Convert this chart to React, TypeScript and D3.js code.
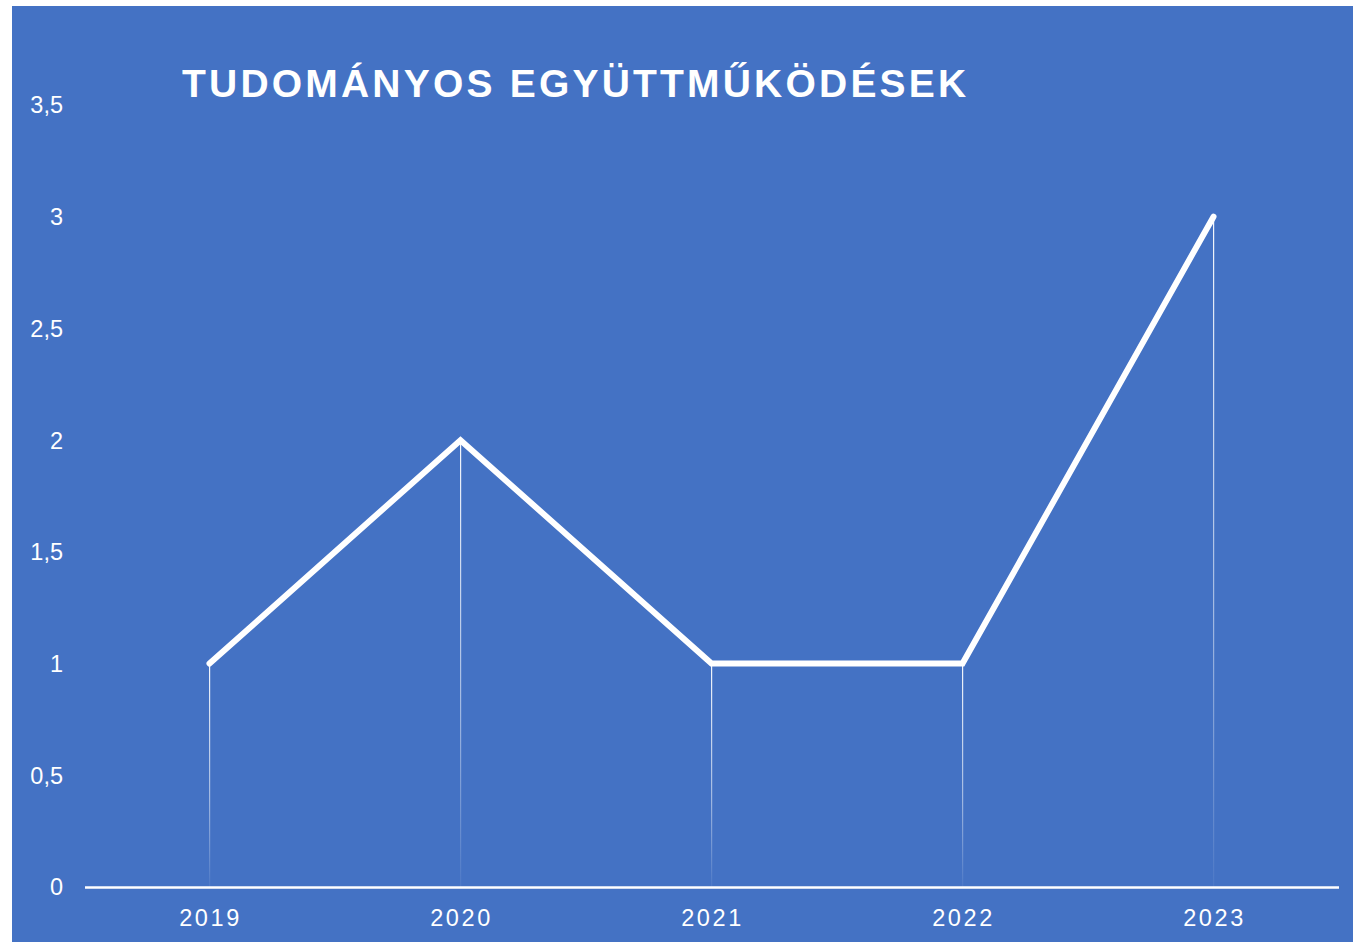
import React from "react";
import * as d3 from "d3";

const years = ["2019", "2020", "2021", "2022", "2023"];
const values = [1, 2, 1, 1, 3];
const yTicks = [0, 0.5, 1, 1.5, 2, 2.5, 3, 3.5];
const title = "TUDOMÁNYOS EGYÜTTMŰKÖDÉSEK";

const W = 1353;
const H = 942;

export default function App() {
  const x = d3.scaleBand<string>().domain(years).range([84, 1339]);
  const y = d3.scaleLinear().domain([0, 3.5]).range([887, 105]);
  const cx = (d: string) => (x(d) as number) + x.bandwidth() / 2;
  const line = d3
    .line<number>()
    .x((_, i) => cx(years[i]))
    .y((v) => y(v));
  const fmt = (v: number) => String(v).replace(".", ",");

  return (
    <svg
      width={W}
      height={H}
      style={{ position: "absolute", left: 0, top: 0, display: "block" }}
      fontFamily="'Liberation Sans', Arial, sans-serif"
    >
      <defs>
        <linearGradient id="fade" x1="0" y1="0" x2="0" y2="1">
          <stop offset="0" stopColor="#ffffff" stopOpacity={0.95} />
          <stop offset="0.6" stopColor="#ffffff" stopOpacity={0.5} />
          <stop offset="1" stopColor="#ffffff" stopOpacity={0.05} />
        </linearGradient>
      </defs>
      <rect x={0} y={0} width={W} height={H} fill="#ffffff" />
      <rect x={12} y={6} width={W - 12} height={H - 6} fill="#4472C4" />
      <text
        x={182}
        y={97}
        fill="#ffffff"
        fontSize={39}
        fontWeight="bold"
        letterSpacing={3.2}
      >
        {title}
      </text>
      {yTicks.map((t) => (
        <text
          key={t}
          x={63}
          y={y(t)}
          dy="0.36em"
          textAnchor="end"
          fill="#ffffff"
          fontSize={23.5}
        >
          {fmt(t)}
        </text>
      ))}
      {years.map((yr, i) => (
        <rect
          key={"drop" + yr}
          x={cx(yr) - 0.5}
          y={y(values[i])}
          width={1.2}
          height={y(0) - y(values[i])}
          fill="url(#fade)"
        />
      ))}
      <line x1={85} x2={1339} y1={887.5} y2={887.5} stroke="#ffffff" strokeWidth={2.5} />
      {years.map((yr) => (
        <text
          key={"xl" + yr}
          x={cx(yr) + 1}
          y={926}
          textAnchor="middle"
          fill="#ffffff"
          fontSize={23.5}
          letterSpacing={2.6}
        >
          {yr}
        </text>
      ))}
      <path
        d={line(values) || ""}
        fill="none"
        stroke="#ffffff"
        strokeWidth={6}
        strokeLinecap="round"
        strokeLinejoin="miter"
      />
    </svg>
  );
}
